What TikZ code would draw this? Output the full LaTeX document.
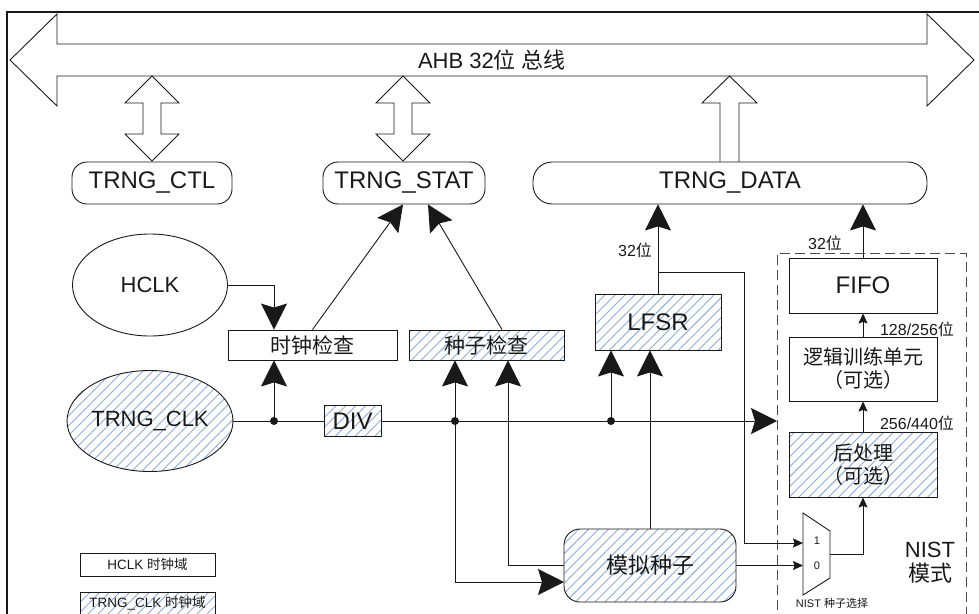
\documentclass[tikz,border=0pt]{standalone}
\usepackage{fontspec}
\setmainfont{Liberation Sans}
\newfontfamily\cjkf{Noto Sans CJK SC}
\newcommand\zh[1]{{\cjkf #1}}
\newcommand\fs[1]{\fontsize{#1}{#1}\selectfont}
\usetikzlibrary{shapes.geometric,arrows.meta,patterns.meta,calc}
\definecolor{hatchc}{RGB}{140,172,218}
\definecolor{linec}{RGB}{25,25,25}
\begin{document}
\begin{tikzpicture}[x=1pt,y=-1pt,line width=0.9pt,color=linec,
  big/.style={-{Stealth[length=26pt,width=26pt,inset=4pt]}},
  small/.style={-{Stealth[length=10pt,width=9pt,inset=1.5pt]}},
  blk/.style={draw,inner sep=0pt,align=center},
  hatched/.style={pattern={Lines[angle=45,distance=7pt,line width=0.9pt]},pattern color=hatchc}]
\useasboundingbox (0,0) rectangle (979,613);
\clip (0,0) rectangle (979,613);
% frame
\draw[line width=2pt] (7,640) -- (7,12) -- (990,12);
% bus
\draw (10,60) -- (57,14) -- (57,44) -- (927,44) -- (927,14) -- (974,60) -- (927,106) -- (927,76) -- (57,76) -- (57,106) -- cycle;
\node[font=\fs{22}] (bus) at (492,60) {AHB 32\zh{位} \zh{总线}};
% register boxes
\node[blk,rounded corners=15pt,minimum width=160pt,minimum height=42pt,font=\fs{24}] (ctl) at (152,183) {TRNG\_CTL};
\node[blk,rounded corners=15pt,minimum width=162pt,minimum height=42pt,font=\fs{24}] (stat) at (404,183) {TRNG\_STAT};
\node[blk,rounded corners=19pt,minimum width=394pt,minimum height=42pt,font=\fs{24}] (data) at (730,183) {TRNG\_DATA};
% bus connections
\foreach \cx in {152,403}{
  \draw (\cx,76) -- (\cx+27,103) -- (\cx+9,103) -- (\cx+9,134) -- (\cx+27,134) -- (\cx,161) -- (\cx-27,134) -- (\cx-9,134) -- (\cx-9,103) -- (\cx-27,103) -- cycle;
}
\draw (720,162) -- (720,103) -- (702,103) -- (729.5,76) -- (757,103) -- (739,103) -- (739,162);
% clocks
\node[blk,ellipse,minimum width=155pt,minimum height=102pt,font=\fs{22}] (hclk) at (150,285) {HCLK};
\node[blk,ellipse,hatched,minimum width=155pt,minimum height=101pt,font=\fs{22}] (tclk) at (150,421) {TRNG\_CLK};
% blocks
\node[blk,minimum width=169pt,minimum height=30pt,font=\fs{21}] (clkchk) at (312.5,345) {\zh{时钟检查}};
\node[blk,hatched,minimum width=155pt,minimum height=30pt,font=\fs{21}] (seedchk) at (486.5,345) {\zh{种子检查}};
\node[blk,hatched,minimum width=126pt,minimum height=56pt,font=\fs{24}] (lfsr) at (658,322) {LFSR};
\node[blk,hatched,minimum width=57pt,minimum height=31pt,font=\fs{24}] (div) at (352.5,421) {DIV};
\node[blk,hatched,rounded corners=16pt,minimum width=172pt,minimum height=73pt,font=\fs{22}] (sim) at (650,565.5) {\zh{模拟种子}};
\node[blk,minimum width=148pt,minimum height=55pt,font=\fs{24}] (fifo) at (863,285.5) {FIFO};
\node[blk,minimum width=148pt,minimum height=64pt,font=\fs{20}] (logic) at (863,369) {\zh{逻辑训练单元}\\[3pt]\zh{（可选）}};
\node[blk,hatched,minimum width=148pt,minimum height=65pt,font=\fs{20}] (post) at (863,464.5) {\zh{后处理}\\[3pt]\zh{（可选）}};
% legend
\node[blk,minimum width=135pt,minimum height=23pt,font=\fs{13.5}] (leg1) at (147.5,564.5) {HCLK \zh{时钟域}};
\node[blk,hatched,minimum width=135pt,minimum height=23pt,font=\fs{13.5}] (leg2) at (147.5,603.5) {TRNG\_CLK \zh{时钟域}};
% NIST area
\draw[dash pattern=on 10pt off 5pt,color=black!70] (777,640) -- (777,253) -- (966,253) -- (966,640);
\node[font=\fs{22},align=center] (nist) at (930,563) {NIST\\[2pt]\zh{模式}};
% mux
\draw (803,513) -- (830,531) -- (830,578) -- (803,595) -- cycle;
\coordinate (m1) at (803,543);
\coordinate (m0) at (803,565.5);
\coordinate (mout) at (830,554);
\node[font=\fs{11}] (l1) at (817,541) {1};
\node[font=\fs{11}] (l0) at (817,566) {0};
\node[font=\fs{11}] (muxcap) at (832,603) {NIST \zh{种子选择}};
% junctions
\coordinate (j1) at (274,421);
\coordinate (j2) at (455,421);
\coordinate (j3) at (611,421);
\coordinate (nistin) at (777,421);
\coordinate (c508) at (508,421);
\coordinate (br) at (658,272);
\coordinate (bx) at (744,272);
\coordinate (simin) at (564,582);
% connectors
\draw[big] (hclk.east) -| (j1 |- clkchk.north);
\draw[big] (j1) -- (j1 |- clkchk.south);
\draw (tclk.east) -- (div.west);
\draw[big] (div.east) -- (nistin);
\draw[big] (j2) -- (j2 |- seedchk.south);
\draw[big] (j2) |- (simin);
\draw[big] (sim.west) -| (c508 |- seedchk.south);
\draw[big] (j3) -- (j3 |- lfsr.south);
\draw[big] (sim.north) -- (sim.north |- lfsr.south);
\draw[big] (lfsr.north) -- (lfsr.north |- data.south);
\draw[small] (br) -- (bx) |- (m1);
\draw[small] (sim.east) -- (m0);
\draw[small] (mout) -| (post.south);
\draw[small] (post.north) -- (logic.south);
\draw[small] (logic.north) -- (fifo.south);
\draw[big] (fifo.north) -- (fifo.north |- data.south);
\draw[big] (clkchk.north) -- ($(stat.south)+(-1,0)$);
\draw[big] ($(seedchk.north)+(15.5,0)$) -- ($(stat.south)+(24,0)$);
\foreach \j in {j1,j2,j3} \fill (\j) circle (4pt);
% labels
\node[font=\fs{16}] (w1) at (635,250) {32\zh{位}};
\node[font=\fs{16}] (w2) at (825,243) {32\zh{位}};
\node[font=\fs{16}] (w3) at (917,329) {128/256\zh{位}};
\node[font=\fs{16}] (w4) at (917,423) {256/440\zh{位}};
\end{tikzpicture}
\end{document}
